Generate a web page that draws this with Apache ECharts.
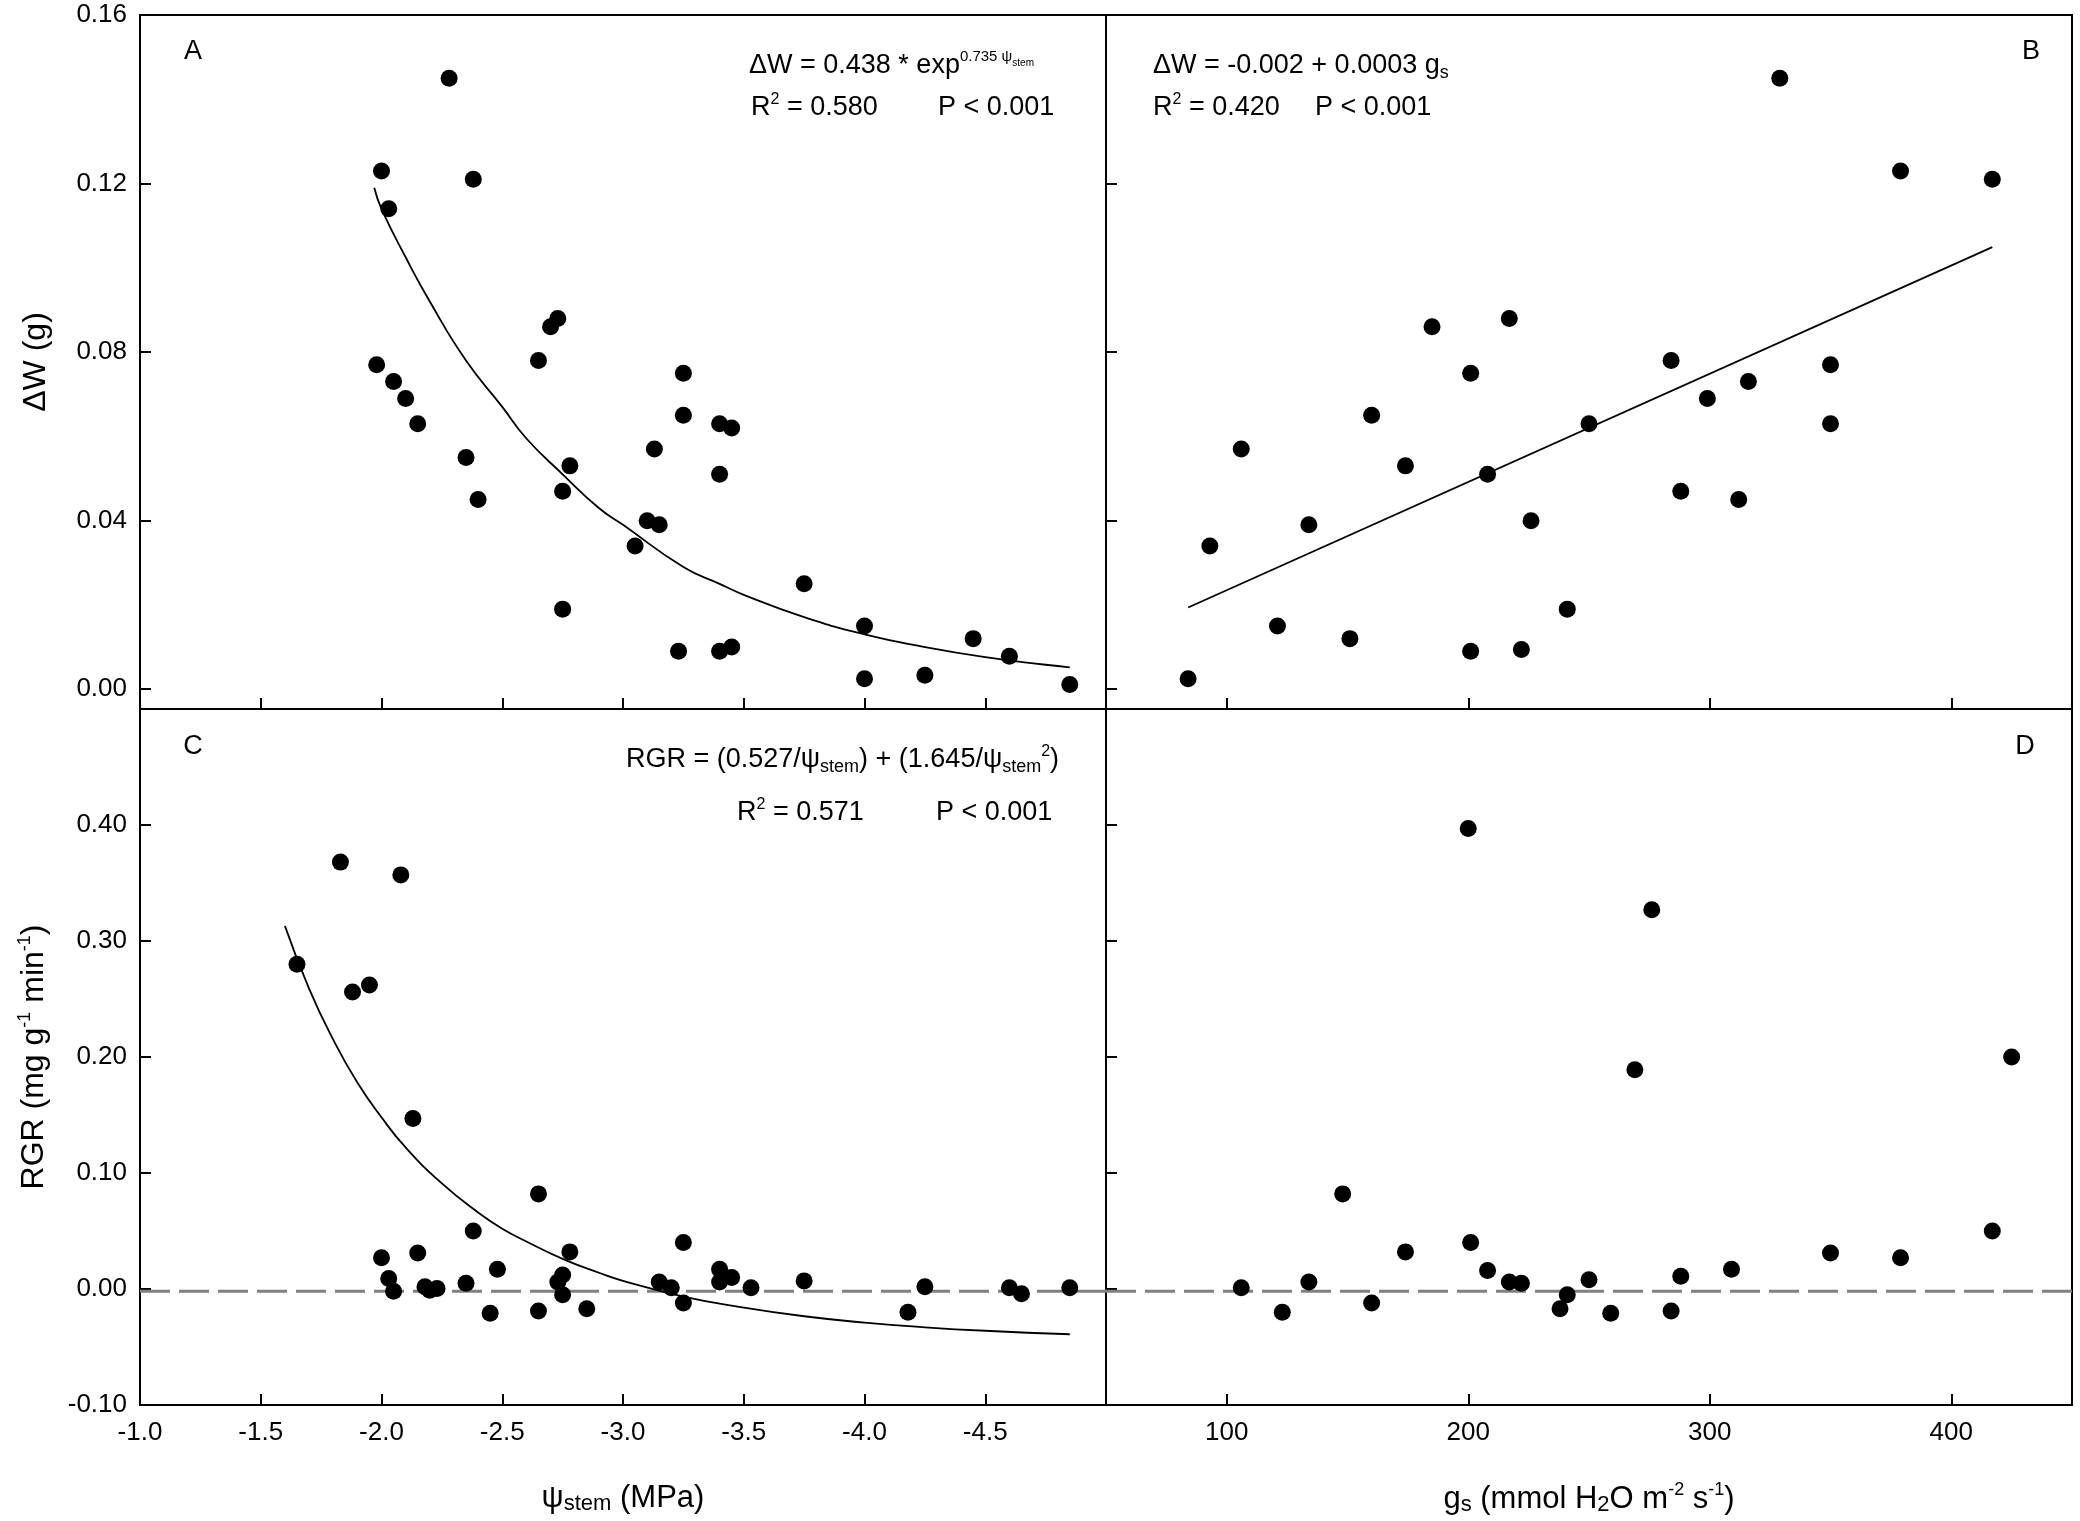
<!DOCTYPE html>
<html>
<head>
<meta charset="utf-8">
<script src="https://cdn.jsdelivr.net/npm/echarts@6/dist/echarts.min.js"></script>
<style>
html, body { margin: 0; padding: 0; background: #fff; }
#chart { width: 2080px; height: 1521px; }
</style>
</head>
<body>
<div id="chart"></div>
<script>
// panel A - stem water potential vs dW
var psiA = [-2.28, -2.00, -2.38, -2.03, -1.98, -2.05, -2.10, -2.15, -2.35, -2.40,
            -2.65, -2.70, -2.73, -2.78, -2.75, -2.75, -3.25, -3.25, -3.40, -3.45,
            -3.40, -3.13, -3.10, -3.15, -3.05, -3.23, -3.40, -3.45, -3.75, -4.00,
            -4.00, -4.25, -4.45, -4.60, -4.85];
var dwA = [0.145, 0.123, 0.121, 0.114, 0.077, 0.073, 0.069, 0.063, 0.055, 0.045,
           0.078, 0.086, 0.088, 0.053, 0.047, 0.019, 0.075, 0.065, 0.063, 0.062,
           0.051, 0.057, 0.040, 0.039, 0.034, 0.009, 0.009, 0.010, 0.025, 0.015,
           0.0025, 0.0033, 0.012, 0.0078, 0.0011];
var fitAx = [-1.97, -2.0, -2.1, -2.2, -2.35, -2.5, -2.6, -2.75, -2.9, -3.0, -3.25, -3.4, -3.5,
             -3.75, -4.0, -4.25, -4.5, -4.75, -4.85];
var fitAy = [0.119, 0.114, 0.1025, 0.092, 0.078, 0.067, 0.0595, 0.051, 0.043, 0.039, 0.029, 0.025, 0.0224,
             0.0171, 0.013, 0.010, 0.0076, 0.0058, 0.0052];

// panel B - gs vs dW
var gsB = [329, 379, 417, 84, 93, 106, 121, 134, 151, 160,
           174, 185, 201, 201, 208, 217, 222, 226, 241, 250,
           284, 288, 299, 312, 316, 350, 350];
var dwB = [0.145, 0.123, 0.121, 0.0025, 0.034, 0.057, 0.015, 0.039, 0.012, 0.065,
           0.053, 0.086, 0.075, 0.009, 0.051, 0.088, 0.0094, 0.040, 0.019, 0.063,
           0.078, 0.047, 0.069, 0.045, 0.073, 0.077, 0.063];
var fitBx = [84, 417];
var fitBy = [0.0194, 0.1049];

// panel C - stem water potential vs RGR
var psiC = [-1.83, -2.08, -1.65, -1.88, -1.95, -2.13, -2.65, -2.38, -2.00, -2.15,
            -2.03, -2.05, -2.18, -2.20, -2.23, -2.35, -2.48, -2.45, -2.65, -2.73,
            -2.75, -2.75, -2.78, -2.85, -3.15, -3.20, -3.25, -3.25, -3.40, -3.40,
            -3.45, -3.53, -3.75, -4.18, -4.25, -4.60, -4.65, -4.85];
var rgrC = [0.368, 0.357, 0.280, 0.256, 0.262, 0.147, 0.082, 0.050, 0.027, 0.031,
            0.009, -0.002, 0.002, -0.001, 0.0005, 0.005, 0.017, -0.021, -0.019, 0.006,
            0.012, -0.005, 0.032, -0.017, 0.006, 0.001, 0.040, -0.012, 0.017, 0.006,
            0.010, 0.001, 0.007, -0.020, 0.002, 0.001, -0.004, 0.001];
var fitCx = [-1.6, -1.7, -1.8, -1.9, -2.0, -2.1, -2.25, -2.4, -2.5, -2.6, -2.75, -2.9, -3.0,
             -3.25, -3.5, -3.75, -4.0, -4.25, -4.5, -4.85];
var fitCy = [0.313, 0.259, 0.215, 0.178, 0.148, 0.122, 0.091, 0.066, 0.052, 0.041, 0.026, 0.014, 0.007,
             -0.0065, -0.016, -0.0235, -0.029, -0.033, -0.036, -0.039];

// panel D - gs vs RGR
var gsD = [200, 276, 269, 425, 148, 201, 174, 350, 379, 417,
           106, 123, 134, 160, 208, 217, 222, 238, 241, 250,
           259, 284, 288, 309];
var rgrD = [0.397, 0.327, 0.189, 0.200, 0.082, 0.040, 0.032, 0.031, 0.027, 0.050,
            0.001, -0.020, 0.006, -0.012, 0.016, 0.006, 0.005, -0.017, -0.005, 0.008,
            -0.021, -0.019, 0.011, 0.017];

var zeroLine = -0.002;
var psiTicks = [-1.0, -1.5, -2.0, -2.5, -3.0, -3.5, -4.0, -4.5];
var gsTicks = [100, 200, 300, 400];
var dwTicks = [0, 0.04, 0.08, 0.12, 0.16];
var rgrTicks = [-0.10, 0, 0.10, 0.20, 0.30, 0.40];

var FONT = 'Liberation Sans, Arial, sans-serif';

var rich = {
  sup: { fontSize: 16, fontFamily: FONT, color: '#000', padding: [0, 0, 16, 0] },
  sub: { fontSize: 18, fontFamily: FONT, color: '#000', padding: [14, 0, 0, 0] },
  tsub: { fontSize: 22, fontFamily: FONT, color: '#000', padding: [12, 0, 0, 0] },
  tsup: { fontSize: 18, fontFamily: FONT, color: '#000', padding: [0, 0, 18, 0] },
  esup: { fontSize: 15, fontFamily: FONT, color: '#444', padding: [0, 0, 18, 0] },
  etiny: { fontSize: 10, fontFamily: FONT, color: '#444', padding: [0, 0, 6, 0] }
};

function pairs(xs, ys) {
  var out = [];
  for (var i = 0; i < xs.length; i++) out.push([xs[i], ys[i]]);
  return out;
}

function xAxisCfg(grid, min, max, ticks, showLabel, inverse, name) {
  return {
    type: 'value', gridIndex: grid, min: min, max: max, inverse: inverse,
    axisLine: { show: false, onZero: false },
    splitLine: { show: false },
    axisTick: { inside: true, length: 11, customValues: ticks, lineStyle: { color: '#000', width: 2 } },
    axisLabel: {
      show: showLabel, customValues: ticks, margin: 15,
      fontSize: 26, fontFamily: FONT, color: '#000',
      formatter: function (v) { return inverse ? v.toFixed(1) : String(v); }
    },
    name: name, nameLocation: 'middle', nameGap: 76,
    nameTextStyle: { fontSize: 31, fontFamily: FONT, color: '#000', rich: rich }
  };
}

function yAxisCfg(grid, min, max, ticks, showLabel, name) {
  return {
    type: 'value', gridIndex: grid, min: min, max: max,
    axisLine: { show: false, onZero: false },
    splitLine: { show: false },
    axisTick: { inside: true, length: 11, customValues: ticks, lineStyle: { color: '#000', width: 2 } },
    axisLabel: {
      show: showLabel, customValues: ticks, margin: 13,
      fontSize: 26, fontFamily: FONT, color: '#000',
      formatter: function (v) { return v.toFixed(2); }
    },
    name: name, nameLocation: 'middle', nameGap: 88, nameRotate: 90,
    nameTextStyle: { fontSize: 32, fontFamily: FONT, color: '#000', rich: rich }
  };
}

function dots(i, data) {
  return {
    type: 'scatter', xAxisIndex: i, yAxisIndex: i, data: data,
    symbol: 'circle', symbolSize: 17, itemStyle: { color: '#000', opacity: 1 }, z: 5
  };
}

function fitLine(i, data, smooth) {
  return {
    type: 'line', xAxisIndex: i, yAxisIndex: i, data: data, smooth: smooth,
    showSymbol: false, lineStyle: { color: '#000', width: 1.8 }
  };
}

function dashed(i, xs) {
  return {
    type: 'line', xAxisIndex: i, yAxisIndex: i,
    data: [[xs[0], zeroLine], [xs[1], zeroLine]],
    showSymbol: false, lineStyle: { color: '#808080', width: 3, type: [30, 9] }
  };
}

function label(x, y, txt, align) {
  return {
    type: 'text', x: x, y: y, z: 10,
    style: {
      text: txt, rich: rich, fontSize: 27, fontFamily: FONT, fill: '#000',
      align: align || 'left', verticalAlign: 'middle'
    }
  };
}

var gridBox = { show: true, borderColor: '#000', borderWidth: 2, backgroundColor: 'transparent' };

var option = {
  backgroundColor: '#fff',
  animation: false,
  grid: [
    Object.assign({ left: 140, top: 15, width: 966, height: 694 }, gridBox),
    Object.assign({ left: 1106, top: 15, width: 966, height: 694 }, gridBox),
    Object.assign({ left: 140, top: 709, width: 966, height: 696 }, gridBox),
    Object.assign({ left: 1106, top: 709, width: 966, height: 696 }, gridBox)
  ],
  xAxis: [
    xAxisCfg(0, -5, -1, psiTicks, false, true, ''),
    xAxisCfg(1, 50, 450, gsTicks, false, false, ''),
    xAxisCfg(2, -5, -1, psiTicks, true, true, 'ψ{tsub|stem} (MPa)'),
    xAxisCfg(3, 50, 450, gsTicks, true, false, 'g{tsub|s} (mmol H{tsub|2}O m{tsup|-2} s{tsup|-1})')
  ],
  yAxis: [
    yAxisCfg(0, -0.0047, 0.16, dwTicks, true, 'ΔW (g)'),
    yAxisCfg(1, -0.0047, 0.16, dwTicks, false, ''),
    yAxisCfg(2, -0.10, 0.50, rgrTicks, true, 'RGR (mg g{tsup|-1} min{tsup|-1})'),
    yAxisCfg(3, -0.10, 0.50, rgrTicks, false, '')
  ],
  series: [
    fitLine(0, pairs(fitAx, fitAy), true),
    dots(0, pairs(psiA, dwA)),
    fitLine(1, pairs(fitBx, fitBy), false),
    dots(1, pairs(gsB, dwB)),
    dashed(2, [-1, -5]),
    fitLine(2, pairs(fitCx, fitCy), true),
    dots(2, pairs(psiC, rgrC)),
    dashed(3, [50, 450]),
    dots(3, pairs(gsD, rgrD))
  ],
  graphic: [
    label(193, 52, 'A', 'center'),
    label(749, 66, 'ΔW = 0.438 * exp{esup|0.735 ψ}{etiny|stem}'),
    label(751, 108, 'R{sup|2} = 0.580'),
    label(938, 108, 'P < 0.001'),
    label(2031, 52, 'B', 'center'),
    label(1153, 66, 'ΔW = -0.002 + 0.0003 g{sub|s}'),
    label(1153, 108, 'R{sup|2} = 0.420'),
    label(1315, 108, 'P < 0.001'),
    label(193, 747, 'C', 'center'),
    label(626, 760, 'RGR = (0.527/ψ{sub|stem}) + (1.645/ψ{sub|stem}{sup|2})'),
    label(737, 813, 'R{sup|2} = 0.571'),
    label(936, 813, 'P < 0.001'),
    label(2025, 747, 'D', 'center')
  ]
};

var myChart = echarts.init(document.getElementById('chart'));
myChart.setOption(option);
</script>
</body>
</html>
